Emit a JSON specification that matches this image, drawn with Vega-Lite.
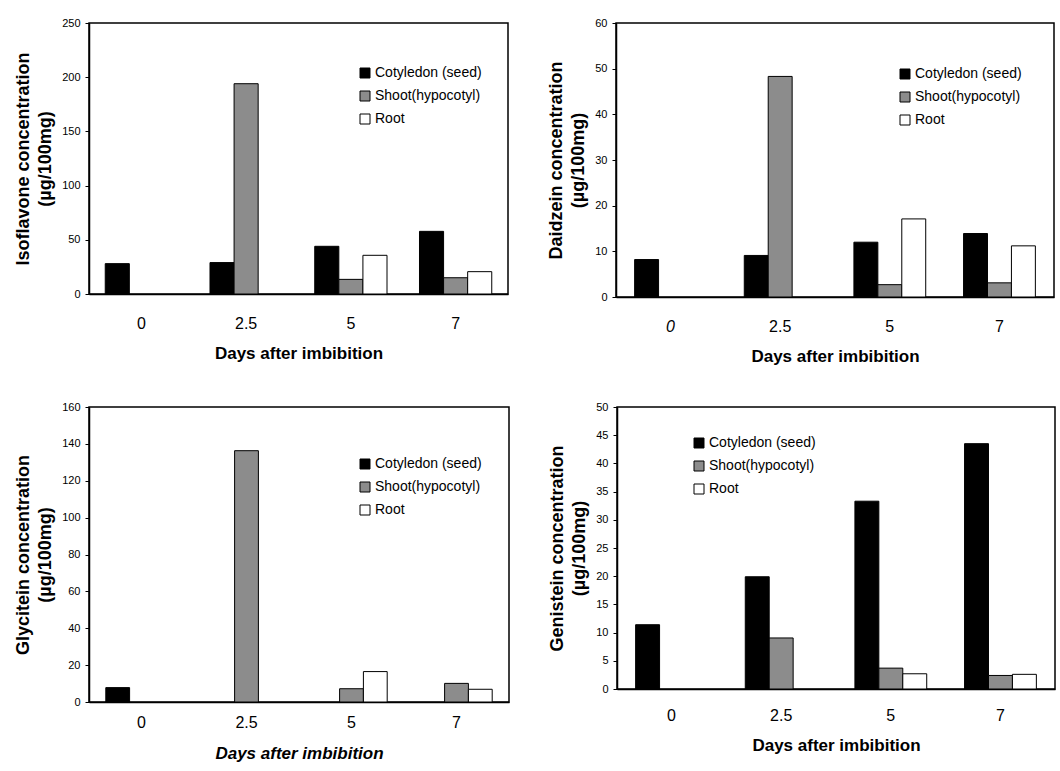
{
  "$schema": "https://vega.github.io/schema/vega-lite/v6.json",
  "padding": {"left": 13, "top": 16, "right": 0, "bottom": 0},
  "background": "white",
  "config": {
    "font": "Liberation Sans",
    "view": {"stroke": "black", "strokeWidth": 1.5},
    "axis": {
      "domainColor": "black", "domainWidth": 1.5, "tickColor": "black", "labelColor": "black", "titleColor": "black",
      "grid": false, "labelFont": "Liberation Sans", "titleFont": "Liberation Sans"
    },
    "axisX": {"ticks": false, "labelAngle": 0, "labelFontSize": 16, "labelPadding": 21, "titleFontSize": 17, "titleFontWeight": "bold", "titlePadding": 14},
    "axisY": {"tickSize": 4, "labelFontSize": 11, "labelPadding": 5, "titleFontSize": 18, "titleFontWeight": "bold", "titleLineHeight": 22, "titlePadding": 7},
    "legend": {"labelFontSize": 14, "labelColor": "black", "symbolType": "square", "symbolSize": 100, "symbolStrokeColor": "black", "symbolStrokeWidth": 1, "rowPadding": 9, "labelOffset": 3, "padding": 0, "title": null},
    "bar": {"stroke": "black", "strokeWidth": 1}
  },
  "datasets": {
    "iso": [
      {"compound": "Isoflavone", "day": "0", "organ": "Cotyledon (seed)", "value": 28},
      {"compound": "Isoflavone", "day": "2.5", "organ": "Cotyledon (seed)", "value": 29},
      {"compound": "Isoflavone", "day": "2.5", "organ": "Shoot(hypocotyl)", "value": 194},
      {"compound": "Isoflavone", "day": "5", "organ": "Cotyledon (seed)", "value": 44},
      {"compound": "Isoflavone", "day": "5", "organ": "Shoot(hypocotyl)", "value": 13.5},
      {"compound": "Isoflavone", "day": "5", "organ": "Root", "value": 35.7},
      {"compound": "Isoflavone", "day": "7", "organ": "Cotyledon (seed)", "value": 57.8},
      {"compound": "Isoflavone", "day": "7", "organ": "Shoot(hypocotyl)", "value": 15},
      {"compound": "Isoflavone", "day": "7", "organ": "Root", "value": 20.6},
      {"compound": "Daidzein", "day": "0", "organ": "Cotyledon (seed)", "value": 8.2},
      {"compound": "Daidzein", "day": "2.5", "organ": "Cotyledon (seed)", "value": 9.1},
      {"compound": "Daidzein", "day": "2.5", "organ": "Shoot(hypocotyl)", "value": 48.3},
      {"compound": "Daidzein", "day": "5", "organ": "Cotyledon (seed)", "value": 12},
      {"compound": "Daidzein", "day": "5", "organ": "Shoot(hypocotyl)", "value": 2.7},
      {"compound": "Daidzein", "day": "5", "organ": "Root", "value": 17.1},
      {"compound": "Daidzein", "day": "7", "organ": "Cotyledon (seed)", "value": 13.9},
      {"compound": "Daidzein", "day": "7", "organ": "Shoot(hypocotyl)", "value": 3.1},
      {"compound": "Daidzein", "day": "7", "organ": "Root", "value": 11.2},
      {"compound": "Glycitein", "day": "0", "organ": "Cotyledon (seed)", "value": 7.8},
      {"compound": "Glycitein", "day": "2.5", "organ": "Shoot(hypocotyl)", "value": 136.3},
      {"compound": "Glycitein", "day": "5", "organ": "Shoot(hypocotyl)", "value": 7.2},
      {"compound": "Glycitein", "day": "5", "organ": "Root", "value": 16.5},
      {"compound": "Glycitein", "day": "7", "organ": "Shoot(hypocotyl)", "value": 10.1},
      {"compound": "Glycitein", "day": "7", "organ": "Root", "value": 6.9},
      {"compound": "Genistein", "day": "0", "organ": "Cotyledon (seed)", "value": 11.4},
      {"compound": "Genistein", "day": "2.5", "organ": "Cotyledon (seed)", "value": 19.9},
      {"compound": "Genistein", "day": "2.5", "organ": "Shoot(hypocotyl)", "value": 9.05},
      {"compound": "Genistein", "day": "5", "organ": "Cotyledon (seed)", "value": 33.3},
      {"compound": "Genistein", "day": "5", "organ": "Shoot(hypocotyl)", "value": 3.7},
      {"compound": "Genistein", "day": "5", "organ": "Root", "value": 2.7},
      {"compound": "Genistein", "day": "7", "organ": "Cotyledon (seed)", "value": 43.5},
      {"compound": "Genistein", "day": "7", "organ": "Shoot(hypocotyl)", "value": 2.4},
      {"compound": "Genistein", "day": "7", "organ": "Root", "value": 2.6}
    ]
  },
  "data": {"name": "iso"},
  "resolve": {"scale": {"color": "independent", "x": "independent", "y": "independent", "xOffset": "independent"}, "legend": {"color": "independent"}},
  "spacing": 35,
  "vconcat": [
    {
      "spacing": 38,
      "resolve": {"scale": {"color": "independent", "x": "independent", "y": "independent", "xOffset": "independent"}, "legend": {"color": "independent"}},
      "hconcat": [
        {
          "width": 419, "height": 271,
          "transform": [{"filter": "datum.compound === 'Isoflavone'"}],
          "mark": {"type": "bar", "stroke": "black", "strokeWidth": 1},
          "encoding": {
            "x": {"field": "day", "type": "nominal", "sort": ["0", "2.5", "5", "7"], "scale": {"domain": ["0", "2.5", "5", "7"], "paddingInner": 0.31, "paddingOuter": 0.155}, "axis": {"title": "Days after imbibition"}},
            "xOffset": {"field": "organ", "type": "nominal", "scale": {"domain": ["Cotyledon (seed)", "Shoot(hypocotyl)", "Root"], "paddingInner": 0, "paddingOuter": 0}},
            "y": {"field": "value", "type": "quantitative", "scale": {"domain": [0, 250], "nice": false}, "axis": {"values": [0, 50, 100, 150, 200, 250], "title": ["Isoflavone concentration", "(µg/100mg)"]}},
            "color": {"field": "organ", "type": "nominal", "scale": {"domain": ["Cotyledon (seed)", "Shoot(hypocotyl)", "Root"], "range": ["#000000", "#8c8c8c", "#ffffff"]}, "legend": {"orient": "none", "legendX": 269, "legendY": 43, "title": null}}
          }
        },
        {
          "width": 438, "height": 274,
          "transform": [{"filter": "datum.compound === 'Daidzein'"}],
          "mark": {"type": "bar", "stroke": "black", "strokeWidth": 1},
          "encoding": {
            "x": {"field": "day", "type": "nominal", "sort": ["0", "2.5", "5", "7"], "scale": {"domain": ["0", "2.5", "5", "7"], "paddingInner": 0.345, "paddingOuter": 0.17}, "axis": {"title": "Days after imbibition", "labelFontStyle": {"condition": {"test": "datum.value === '0'", "value": "italic"}, "value": "normal"}}},
            "xOffset": {"field": "organ", "type": "nominal", "scale": {"domain": ["Cotyledon (seed)", "Shoot(hypocotyl)", "Root"], "paddingInner": 0, "paddingOuter": 0}},
            "y": {"field": "value", "type": "quantitative", "scale": {"domain": [0, 60], "nice": false}, "axis": {"values": [0, 10, 20, 30, 40, 50, 60], "title": ["Daidzein concentration", "(µg/100mg)"]}},
            "color": {"field": "organ", "type": "nominal", "scale": {"domain": ["Cotyledon (seed)", "Shoot(hypocotyl)", "Root"], "range": ["#000000", "#8c8c8c", "#ffffff"]}, "legend": {"orient": "none", "legendX": 282, "legendY": 44, "title": null}}
          }
        }
      ]
    },
    {
      "spacing": 38,
      "resolve": {"scale": {"color": "independent", "x": "independent", "y": "independent", "xOffset": "independent"}, "legend": {"color": "independent"}},
      "hconcat": [
        {
          "width": 420, "height": 295,
          "transform": [{"filter": "datum.compound === 'Glycitein'"}],
          "mark": {"type": "bar", "stroke": "black", "strokeWidth": 1},
          "encoding": {
            "x": {"field": "day", "type": "nominal", "sort": ["0", "2.5", "5", "7"], "scale": {"domain": ["0", "2.5", "5", "7"], "paddingInner": 0.32, "paddingOuter": 0.16}, "axis": {"title": "Days after imbibition", "titleFontStyle": "italic", "labelPadding": 12, "titlePadding": 15}},
            "xOffset": {"field": "organ", "type": "nominal", "scale": {"domain": ["Cotyledon (seed)", "Shoot(hypocotyl)", "Root"], "paddingInner": 0, "paddingOuter": 0}},
            "y": {"field": "value", "type": "quantitative", "scale": {"domain": [0, 160], "nice": false}, "axis": {"values": [0, 20, 40, 60, 80, 100, 120, 140, 160], "title": ["Glycitein concentration", "(µg/100mg)"]}},
            "color": {"field": "organ", "type": "nominal", "scale": {"domain": ["Cotyledon (seed)", "Shoot(hypocotyl)", "Root"], "range": ["#000000", "#8c8c8c", "#ffffff"]}, "legend": {"orient": "none", "legendX": 269, "legendY": 50, "title": null}}
          }
        },
        {
          "width": 438, "height": 282,
          "transform": [{"filter": "datum.compound === 'Genistein'"}],
          "mark": {"type": "bar", "stroke": "black", "strokeWidth": 1},
          "encoding": {
            "x": {"field": "day", "type": "nominal", "sort": ["0", "2.5", "5", "7"], "scale": {"domain": ["0", "2.5", "5", "7"], "paddingInner": 0.345, "paddingOuter": 0.17}, "axis": {"title": "Days after imbibition", "labelPadding": 18}},
            "xOffset": {"field": "organ", "type": "nominal", "scale": {"domain": ["Cotyledon (seed)", "Shoot(hypocotyl)", "Root"], "paddingInner": 0, "paddingOuter": 0}},
            "y": {"field": "value", "type": "quantitative", "scale": {"domain": [0, 50], "nice": false}, "axis": {"values": [0, 5, 10, 15, 20, 25, 30, 35, 40, 45, 50], "title": ["Genistein concentration", "(µg/100mg)"]}},
            "color": {"field": "organ", "type": "nominal", "scale": {"domain": ["Cotyledon (seed)", "Shoot(hypocotyl)", "Root"], "range": ["#000000", "#8c8c8c", "#ffffff"]}, "legend": {"orient": "none", "legendX": 75, "legendY": 29, "title": null}}
          }
        }
      ]
    }
  ]
}
